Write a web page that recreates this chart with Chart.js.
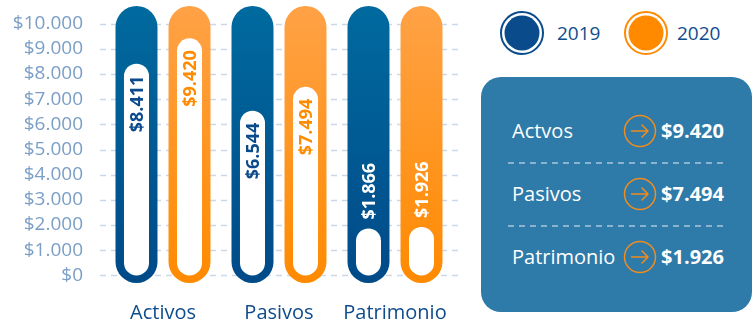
<!DOCTYPE html>
<html><head><meta charset="utf-8">
<script src="https://cdn.jsdelivr.net/npm/chart.js@4.4.1/dist/chart.umd.min.js"></script>
<style>
html,body{margin:0;padding:0;background:#fff;width:755px;height:319px;overflow:hidden;font-family:'Open Sans',sans-serif;}
#wrap{position:absolute;left:0;top:0;width:475px;height:319px;}
.abs{position:absolute;}
.lgtxt{position:absolute;font-size:19px;color:#0f4c8c;line-height:30px;height:30px;}
#box{position:absolute;left:481px;top:77px;width:271px;height:235px;border-radius:20px;background:#2e7aa8;}
.rl{position:absolute;color:#fff;font-size:20px;line-height:30px;height:30px;white-space:nowrap;}
.rv{position:absolute;color:#fff;font-size:20px;font-weight:700;line-height:30px;height:30px;text-align:right;width:90px;white-space:nowrap;}
</style></head>
<body>
<div id="wrap"><canvas id="c"></canvas></div>
<div id="legend"></div>
<div id="box"></div>
<div id="rows"></div>
<script>
const categories = ['Activos', 'Pasivos', 'Patrimonio'];
const years = ['2019', '2020'];
const values2019 = [8411, 6544, 1866];
const values2020 = [9420, 7494, 1926];
const tickValues = [0, 1000, 2000, 3000, 4000, 5000, 6000, 7000, 8000, 9000, 10000];
const axisMin = -300;
const axisMax = 10700;
const summaryLabels = ['Actvos', 'Pasivos', 'Patrimonio'];
const summaryValues = values2020;

const fmt = v => '$' + String(v).replace(/\B(?=(\d{3})+(?!\d))/g, '.');

const BLUE_TOP = '#006a9f', BLUE_BOT = '#004a88';
const ORG_TOP = '#ffa246', ORG_BOT = '#ff8a00';
const BLUE_TXT = '#0b4a8b', ORG_TXT = '#ff8c00';

function grad(top, bot) {
  return (ctx) => {
    const ch = ctx.chart; const ca = ch.chartArea;
    if (!ca) return bot;
    const g = ch.ctx.createLinearGradient(0, ca.top, 0, ca.bottom);
    g.addColorStop(0, top); g.addColorStop(1, bot);
    return g;
  };
}

const gridPlugin = {
  id: 'dashGrid',
  beforeDatasetsDraw(chart) {
    const c = chart.ctx, ca = chart.chartArea, ys = chart.scales.y;
    c.save();
    c.strokeStyle = '#cbd8e7';
    c.lineWidth = 1.5;
    c.setLineDash([6, 5]);
    tickValues.forEach(v => {
      const y = Math.round(ys.getPixelForValue(v)) + 0.5;
      c.beginPath(); c.moveTo(ca.left - 5, y); c.lineTo(ca.right + 9, y); c.stroke();
    });
    c.restore();
  }
};

const labelPlugin = {
  id: 'valLabels',
  afterDatasetsDraw(chart) {
    const c = chart.ctx;
    chart.data.datasets.forEach((ds, i) => {
      if (!ds.inner) return;
      const meta = chart.getDatasetMeta(i);
      meta.data.forEach((bar, j) => {
        const p = bar.getProps(['x', 'y', 'base'], true);
        const txt = fmt(ds.rawValues[j]);
        c.save();
        c.font = '700 18px "Open Sans"';
        const w = c.measureText(txt).width;
        c.textBaseline = 'middle';
        if (p.base - p.y > w + 26) {
          c.translate(p.x, p.y + 12);
          c.rotate(-Math.PI / 2);
          c.textAlign = 'right';
          c.fillStyle = ds.txtColor;
        } else {
          c.translate(p.x, p.y - 9);
          c.rotate(-Math.PI / 2);
          c.textAlign = 'left';
          c.fillStyle = '#ffffff';
        }
        c.fillText(txt, 0, 1);
        c.restore();
      });
    });
  }
};

const capsule = categories.map(() => [axisMin, axisMax]);

new Chart(document.getElementById('c'), {
  type: 'bar',
  data: {
    labels: categories,
    datasets: [
      { label: years[0], stack: 'a', order: 1, inner: true, rawValues: values2019, txtColor: BLUE_TXT,
        data: values2019.map(v => [0, v]), backgroundColor: '#ffffff', barPercentage: 0.472,
        borderRadius: 40, borderSkipped: false },
      { label: years[1], stack: 'b', order: 1, inner: true, rawValues: values2020, txtColor: ORG_TXT,
        data: values2020.map(v => [0, v]), backgroundColor: '#ffffff', barPercentage: 0.472,
        borderRadius: 40, borderSkipped: false },
      { label: 'bg2019', stack: 'a', order: 2, data: capsule, backgroundColor: grad(BLUE_TOP, BLUE_BOT),
        barPercentage: 0.792, borderRadius: 40, borderSkipped: false },
      { label: 'bg2020', stack: 'b', order: 2, data: capsule, backgroundColor: grad(ORG_TOP, ORG_BOT),
        barPercentage: 0.792, borderRadius: 40, borderSkipped: false }
    ]
  },
  options: {
    responsive: true, maintainAspectRatio: false, animation: false,
    datasets: { bar: { categoryPercentage: 0.914, grouped: true } },
    layout: { padding: { top: 6, right: 22, left: 0, bottom: 0 } },
    plugins: { legend: { display: false }, tooltip: { enabled: false } },
    scales: {
      x: {
        grid: { display: false }, border: { display: false },
        afterFit: a => { a.height = 36; },
        ticks: { padding: 10, color: '#0e4c8c', font: { family: 'Open Sans', size: 20 } }
      },
      y: {
        min: axisMin, max: axisMax, stacked: false,
        grid: { display: false }, border: { display: false },
        afterBuildTicks: a => { a.ticks = tickValues.map(v => ({ value: v })); },
        afterFit: a => { a.width = 105; a.paddingTop = 0; a.paddingBottom = 0; },
        ticks: { autoSkip: false, padding: 14, color: '#7a9ec6', font: { family: 'Open Sans', size: 19, weight: 400 },
                 callback: v => fmt(v) }
      }
    }
  },
  plugins: [gridPlugin, labelPlugin]
});

// Legend
const lgColors = ['#0a4c8b', '#ff8a00'];
const lgCx = [521.5, 646];
const lgTx = [557, 677];
const lg = document.getElementById('legend');
years.forEach((y, i) => {
  const s = document.createElementNS('http://www.w3.org/2000/svg', 'svg');
  s.setAttribute('width', 46); s.setAttribute('height', 46);
  s.setAttribute('class', 'abs');
  s.style.left = (lgCx[i] - 23) + 'px'; s.style.top = (33 - 23) + 'px';
  s.innerHTML = `<circle cx="23" cy="23" r="21" fill="none" stroke="${lgColors[i]}" stroke-width="2"/>
                 <circle cx="23" cy="23" r="17.5" fill="${lgColors[i]}"/>`;
  lg.appendChild(s);
  const t = document.createElement('div');
  t.className = 'lgtxt'; t.textContent = y;
  t.style.left = lgTx[i] + 'px'; t.style.top = (33 - 15) + 'px';
  lg.appendChild(t);
});

// Summary rows
const rowY = [131, 194, 257];
const rows = document.getElementById('rows');
summaryLabels.forEach((lab, i) => {
  const l = document.createElement('div');
  l.className = 'rl'; l.textContent = lab;
  l.style.left = '512px'; l.style.top = (rowY[i] - 15) + 'px';
  rows.appendChild(l);
  const s = document.createElementNS('http://www.w3.org/2000/svg', 'svg');
  s.setAttribute('width', 34); s.setAttribute('height', 34); s.setAttribute('class', 'abs');
  s.style.left = (640 - 17) + 'px'; s.style.top = (rowY[i] - 17) + 'px';
  s.innerHTML = `<circle cx="17" cy="17" r="15.5" fill="none" stroke="#f28c1e" stroke-width="1.5"/>
    <path d="M8.5 17 H25 M19 11 L25 17 L19 23" fill="none" stroke="#f28c1e" stroke-width="1.5" stroke-linecap="round" stroke-linejoin="round"/>`;
  rows.appendChild(s);
  const v = document.createElement('div');
  v.className = 'rv'; v.textContent = fmt(summaryValues[i]);
  v.style.left = (724 - 90) + 'px'; v.style.top = (rowY[i] - 15) + 'px';
  rows.appendChild(v);
  if (i < summaryLabels.length - 1) {
    const sep = document.createElementNS('http://www.w3.org/2000/svg', 'svg');
    sep.setAttribute('width', 222); sep.setAttribute('height', 4); sep.setAttribute('class', 'abs');
    sep.style.left = '507px'; sep.style.top = (rowY[i] + 30) + 'px';
    sep.innerHTML = `<line x1="1" y1="2" x2="220" y2="2" stroke="#a9c6dc" stroke-width="1.5" stroke-dasharray="6 5"/>`;
    rows.appendChild(sep);
  }
});
</script>
</body></html>
